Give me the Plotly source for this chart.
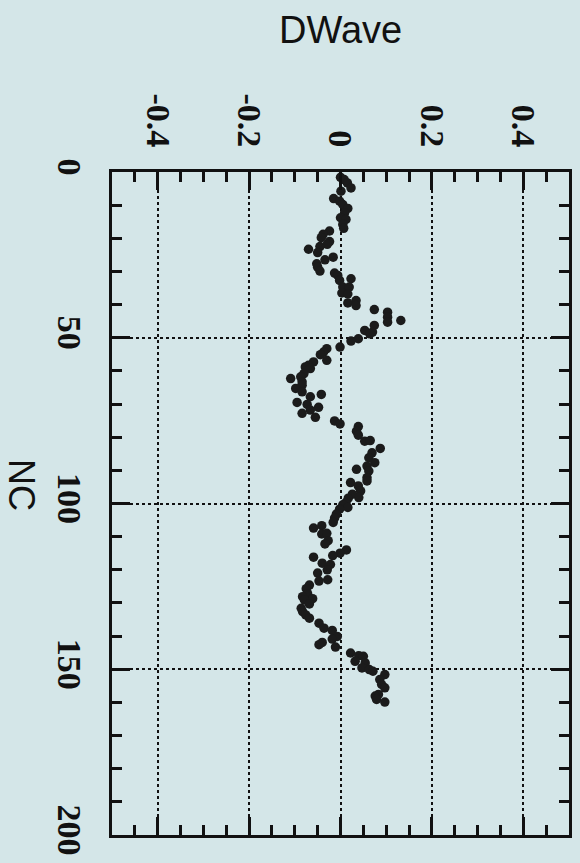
import plotly.graph_objects as go

# Data (NC index, DWave value)
nc = [1.6, 2.3, 3.3, 4.8, 5.8, 8.0, 8.8, 9.8, 11.0, 12.3, 13.8, 14.3, 15.8, 17.0, 17.8, 18.8, 19.8,
      21.0, 21.8, 22.5, 23.3, 24.3, 25.7, 26.5, 27.7, 28.7, 29.9, 30.5, 31.2, 32.2, 32.7, 34.7, 34.7,
      36.5, 36.8, 38.8, 39.5, 40.3, 41.5, 42.3, 43.8, 44.8, 45.3, 46.3, 48.3, 47.8, 48.8, 50.3, 51.0,
      52.8, 53.3, 54.3, 55.1, 56.8, 57.3, 58.3, 58.8, 59.3, 60.8, 61.8, 62.3, 63.3, 64.3, 65.3, 66.3,
      67.1, 67.8, 69.5, 70.1, 71.0, 71.8, 72.8, 74.0, 75.1, 76.0, 76.8, 78.2, 79.4, 81.2, 81.0, 83.4,
      84.7, 86.2, 87.7, 88.7, 89.7, 90.2, 92.2, 93.2, 93.7, 94.7, 96.2, 97.2, 98.2, 98.4, 99.7, 100.4,
      101.2, 101.7, 103.2, 104.4, 105.7, 106.7, 107.4, 109.2, 109.0, 111.2, 112.2, 114.0, 115.0, 115.7,
      116.2, 118.0, 118.4, 120.0, 121.0, 123.0, 123.4, 124.6, 125.7, 127.2, 128.7, 128.1, 129.1, 130.3,
      131.6, 132.6, 133.6, 134.6, 136.1, 137.6, 138.3, 140.1, 140.9, 141.9, 142.6, 143.3, 145.1, 145.9,
      146.1, 147.6, 148.1, 149.6, 150.1, 150.6, 151.6, 153.1, 154.6, 155.6, 157.6, 158.1, 159.1, 159.9]
dwave = [0.000, 0.008, 0.015, 0.023, 0.001, -0.015, -0.002, 0.005, 0.016, 0.009, 0.000, 0.012, 0.005,
         0.007, -0.024, -0.038, -0.042, -0.024, -0.029, -0.045, -0.070, -0.050, -0.016, -0.034, -0.052,
         -0.050, -0.045, -0.013, -0.006, 0.023, -0.002, 0.005, 0.019, 0.003, 0.016, 0.034, 0.016, 0.034,
         0.074, 0.103, 0.103, 0.132, 0.103, 0.074, 0.070, 0.053, 0.064, 0.039, 0.023, -0.001, -0.030,
         -0.037, -0.044, -0.030, -0.059, -0.070, -0.077, -0.066, -0.080, -0.087, -0.109, -0.084, -0.084,
         -0.098, -0.084, -0.042, -0.066, -0.095, -0.073, -0.048, -0.066, -0.084, -0.055, -0.013, -0.001,
         0.039, 0.035, 0.039, 0.053, 0.065, 0.087, 0.069, 0.062, 0.075, 0.058, 0.035, 0.062, 0.058, 0.058,
         0.022, 0.039, 0.044, 0.026, 0.040, 0.017, 0.012, 0.005, 0.016, -0.002, -0.009, -0.013, -0.016,
         -0.041, -0.059, -0.041, -0.030, -0.027, -0.034, 0.013, -0.001, -0.017, -0.059, -0.040, -0.022,
         -0.029, -0.050, -0.028, -0.047, -0.068, -0.075, -0.072, -0.061, -0.083, -0.079, -0.068, -0.086,
         -0.083, -0.076, -0.068, -0.047, -0.036, -0.018, -0.007, -0.018, -0.040, -0.047, -0.011, 0.022,
         0.040, 0.050, 0.032, 0.054, 0.047, 0.063, 0.071, 0.097, 0.086, 0.090, 0.097, 0.083, 0.076, 0.079,
         0.097]

x_ticks = [-0.4, -0.2, 0, 0.2, 0.4]
x_ticklabels = ["-0.4", "-0.2", "0", "0.2", "0.4"]
y_ticks = [0, 50, 100, 150, 200]
y_ticklabels = ["0", "50", "100", "150", "200"]

BG = "rgb(212,230,232)"
INK = "#111111"
tick_font = dict(family="Liberation Serif", size=34, color=INK, weight=900)
title_font = "Liberation Sans"

fig = go.Figure()
fig.add_trace(go.Scatter(
    x=dwave, y=nc, mode="markers",
    marker=dict(size=9.5, color="#1b1b1b", line=dict(width=0)),
    showlegend=False, hoverinfo="skip"))

fig.update_layout(
    width=580, height=863,
    paper_bgcolor=BG, plot_bgcolor=BG,
    margin=dict(l=112, r=8, t=172, b=27),
    xaxis=dict(
        side="top", range=[-0.5, 0.5], tickmode="array",
        tickvals=x_ticks, ticktext=x_ticklabels, tickangle=90,
        tickfont=tick_font, ticks="inside", ticklen=18, tickwidth=2.5, tickcolor=INK,
        showline=True, linewidth=2.5, linecolor=INK, mirror="allticks",
        showgrid=True, gridcolor=INK, gridwidth=2.2, griddash="dot",
        zeroline=False, ticklabelstandoff=10,
        minor=dict(dtick=0.05, tick0=0, ticks="inside", ticklen=10, tickwidth=2.5,
                   tickcolor=INK, showgrid=False),
    ),
    yaxis=dict(
        range=[200, 0], tickmode="array", tickvals=y_ticks, ticktext=y_ticklabels,
        tickangle=90, tickfont=tick_font, ticks="inside", ticklen=18, tickwidth=2.5,
        tickcolor=INK, showline=True, linewidth=2.5, linecolor=INK, mirror="allticks",
        showgrid=True, gridcolor=INK, gridwidth=2.2, griddash="dot",
        zeroline=False, ticklabelstandoff=10,
        minor=dict(dtick=10, tick0=0, ticks="inside", ticklen=10, tickwidth=2.5,
                   tickcolor=INK, showgrid=False),
    ),
    annotations=[
        dict(text="DWave", xref="paper", yref="paper", x=(342 - 112) / 460, y=1 + (172 - 30) / 664,
             showarrow=False, xanchor="center", yanchor="middle",
             font=dict(family=title_font, size=38, color=INK)),
        dict(text="NC", xref="paper", yref="paper", x=(21 - 112) / 460, y=1 - (485 - 172) / 664,
             showarrow=False, xanchor="center", yanchor="middle", textangle=90,
             font=dict(family=title_font, size=36, color=INK)),
    ],
)

fig.write_html("out.html")
